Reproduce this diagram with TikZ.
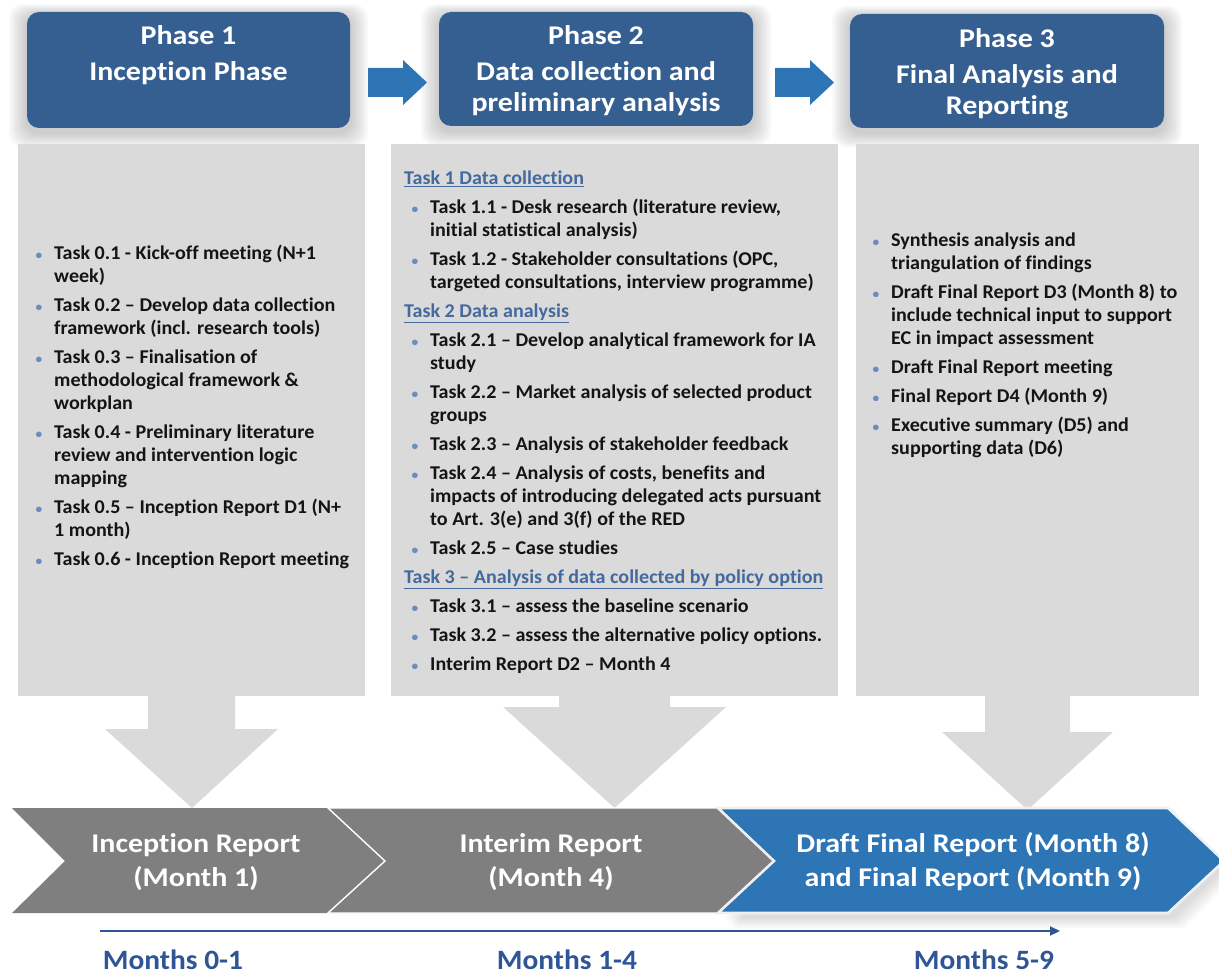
\documentclass[tikz,border=0pt]{standalone}
\usepackage{fontspec}
\setmainfont{Carlito}[Ligatures=NoCommon]
\newfontfamily\bodyfont{Carlito}[Ligatures=NoCommon, FakeStretch=1.03]
\newfontfamily\hdrfont{Carlito}[Ligatures=NoCommon, FakeStretch=1.11]
\newfontfamily\monthfont{Carlito}[Ligatures=NoCommon, FakeStretch=1.05]
\usetikzlibrary{arrows.meta}
\definecolor{hdr}{HTML}{365F91}
\definecolor{arrblue}{HTML}{2E75B6}
\definecolor{boxgrey}{HTML}{DADADA}
\definecolor{chevgrey}{HTML}{7F7F7F}
\definecolor{chevblue}{HTML}{2E75B6}
\definecolor{monthblue}{HTML}{2F5597}
\definecolor{taskblue}{HTML}{44699E}
\definecolor{bulblue}{HTML}{6A8CBF}
\definecolor{txt}{HTML}{141414}
\newcommand{\bul}{\llap{\textcolor{bulblue}{\fontsize{13}{13}\selectfont\textbullet}\hspace{12pt}}}
\newcommand{\thead}[1]{\hspace*{-26pt}\textcolor{taskblue}{\underline{#1}}}
\tikzset{
  hdrbox/.style={fill=hdr, rounded corners=12pt, inner sep=0pt},
  hdrtext/.style={text=white, inner sep=0pt, font=\hdrfont\fontsize{27}{31}\selectfont\bfseries},
  colbox/.style={fill=boxgrey, inner sep=0pt},
  coltext/.style={text=txt, inner sep=0pt, anchor=north west, font=\bodyfont\fontsize{19.5}{23}\selectfont\bfseries},
  chevtext/.style={text=white, inner sep=0pt, font=\hdrfont\fontsize{27}{34}\selectfont\bfseries},
  monthtext/.style={text=monthblue, inner sep=0pt, anchor=base, font=\monthfont\fontsize{28}{30}\selectfont\bfseries},
  timeline/.style={draw=monthblue, line width=2.2pt, -{Triangle[length=10pt,width=9pt]}}
}
\begin{document}
\begin{tikzpicture}[x=1pt,y=-1pt]
\useasboundingbox (0,0) rectangle (1219,976);

% header shadows
\foreach \bx/\by/\ex/\ey in {27/12/350/128, 439/12/753/126, 850/14/1164/128}{
  \foreach \r in {1,...,9}{
    \fill[black, opacity=0.022, rounded corners=14pt] (\bx-\r*2, \by+3-\r*1.2) rectangle (\ex+\r*2, \ey+5+\r*1.6);
  }
}

% header boxes
\node[hdrbox, minimum width=323pt, minimum height=116pt] (h1) at (188.5,70) {};
\node[hdrbox, minimum width=314pt, minimum height=114pt] (h2) at (596,69) {};
\node[hdrbox, minimum width=314pt, minimum height=114pt] (h3) at (1007,71) {};

\node[hdrtext, anchor=north] (ht1) at (188.5,23) {\begin{tabular}{@{}c@{}}Phase 1\\[5pt]Inception Phase\end{tabular}};
\node[hdrtext, anchor=north] (ht2) at (596,23) {\begin{tabular}{@{}c@{}}Phase 2\\[5pt]Data collection and\\preliminary analysis\end{tabular}};
\node[hdrtext, anchor=north] (ht3) at (1007,26) {\begin{tabular}{@{}c@{}}Phase 3\\[5pt]Final Analysis and\\Reporting\end{tabular}};

% blue arrows between headers
\fill[arrblue] (368,68) -- (403,68) -- (403,60) -- (427,82.5) -- (403,105) -- (403,97) -- (368,97) -- cycle;
\fill[arrblue] (775,68) -- (810,68) -- (810,60) -- (834,82.5) -- (810,105) -- (810,97) -- (775,97) -- cycle;

% grey column boxes
\node[colbox, minimum width=347pt, minimum height=552pt] (c1) at (191.5,420) {};
\node[colbox, minimum width=447pt, minimum height=552pt] (c2) at (614.5,420) {};
\node[colbox, minimum width=343pt, minimum height=552pt] (c3) at (1027.5,420) {};

% grey down arrows
\fill[boxgrey] (148,694) -- (235,694) -- (235,729) -- (278,729) -- (192,808) -- (105,729) -- (148,729) -- cycle;
\fill[boxgrey] (559,694) -- (670,694) -- (670,707) -- (726,707) -- (614.5,808) -- (503,707) -- (559,707) -- cycle;
\fill[boxgrey] (985,694) -- (1070,694) -- (1070,732) -- (1113,732) -- (1027.5,810) -- (942,732) -- (985,732) -- cycle;

% column texts
\node[coltext] (t1) at (54,243) {\begin{tabular}{@{}l@{}}
\bul Task 0.1 - Kick-off meeting (N+1\\
week)\\[6pt]
\bul Task 0.2 – Develop data collection\\
framework (incl. research tools)\\[6pt]
\bul Task 0.3 – Finalisation of\\
methodological framework \&\\
workplan\\[6pt]
\bul Task 0.4 - Preliminary literature\\
review and intervention logic\\
mapping\\[6pt]
\bul Task 0.5 – Inception Report D1 (N+\\
1 month)\\[6pt]
\bul Task 0.6 - Inception Report meeting
\end{tabular}};

\node[coltext] (t2) at (430,168) {\begin{tabular}{@{}l@{}}
\thead{Task 1 Data collection}\\[6pt]
\bul Task 1.1 - Desk research (literature review,\\
initial statistical analysis)\\[6pt]
\bul Task 1.2 - Stakeholder consultations (OPC,\\
targeted consultations, interview programme)\\[6pt]
\thead{Task 2 Data analysis}\\[6pt]
\bul Task 2.1 – Develop analytical framework for IA\\
study\\[6pt]
\bul Task 2.2 – Market analysis of selected product\\
groups\\[6pt]
\bul Task 2.3 – Analysis of stakeholder feedback\\[6pt]
\bul Task 2.4 – Analysis of costs, benefits and\\
impacts of introducing delegated acts pursuant\\
to Art. 3(e) and 3(f) of the RED\\[6pt]
\bul Task 2.5 – Case studies\\[6pt]
\thead{Task 3 – Analysis of data collected by policy option}\\[6pt]
\bul Task 3.1 – assess the baseline scenario\\[6pt]
\bul Task 3.2 – assess the alternative policy options.\\[6pt]
\bul Interim Report D2 – Month 4
\end{tabular}};

\node[coltext] (t3) at (891,230) {\begin{tabular}{@{}l@{}}
\bul Synthesis analysis and\\
triangulation of findings\\[6pt]
\bul Draft Final Report D3 (Month 8) to\\
include technical input to support\\
EC in impact assessment\\[6pt]
\bul Draft Final Report meeting\\[6pt]
\bul Final Report D4 (Month 9)\\[6pt]
\bul Executive summary (D5) and\\
supporting data (D6)
\end{tabular}};

% chevron shadow for blue chevron
\foreach \r in {1,...,6}{
  \fill[black, opacity=0.025] (722+\r*2,812+\r*1.5) -- (1172+\r*2,812+\r*1.5) -- (1226+\r*2,864+\r*1.5) -- (1172+\r*2,916+\r*2) -- (722+\r*2,916+\r*2) -- (778,864) -- cycle;
}
% chevrons
\fill[chevgrey] (12,808) -- (328,808) -- (385,861) -- (328,913) -- (12,913) -- (65,861) -- cycle;
\filldraw[fill=chevgrey, draw=white, line width=1.4pt, line join=miter] (328,808) -- (718,808) -- (774,861) -- (718,913) -- (328,913) -- (385,861) -- cycle;
\filldraw[fill=chevblue, draw=white!88!gray, line width=2.6pt, line join=miter] (718,808) -- (1168,808) -- (1224,861) -- (1168,913) -- (718,913) -- (774,861) -- cycle;

\node[chevtext] (r1) at (196,863) {\begin{tabular}{@{}c@{}}Inception Report\\(Month 1)\end{tabular}};
\node[chevtext] (r2) at (551,863) {\begin{tabular}{@{}c@{}}Interim Report\\(Month 4)\end{tabular}};
\node[chevtext] (r3) at (973,863) {\begin{tabular}{@{}c@{}}Draft Final Report (Month 8)\\and Final Report (Month 9)\end{tabular}};

% timeline
\coordinate (tl0) at (100,931);
\coordinate (tl1) at (1060,931);
\draw[timeline] (tl0) -- (tl1);

\node[monthtext] (m1) at (173,969) {Months 0-1};
\node[monthtext] (m2) at (567,969) {Months 1-4};
\node[monthtext] (m3) at (984,969) {Months 5-9};
\end{tikzpicture}
\end{document}
